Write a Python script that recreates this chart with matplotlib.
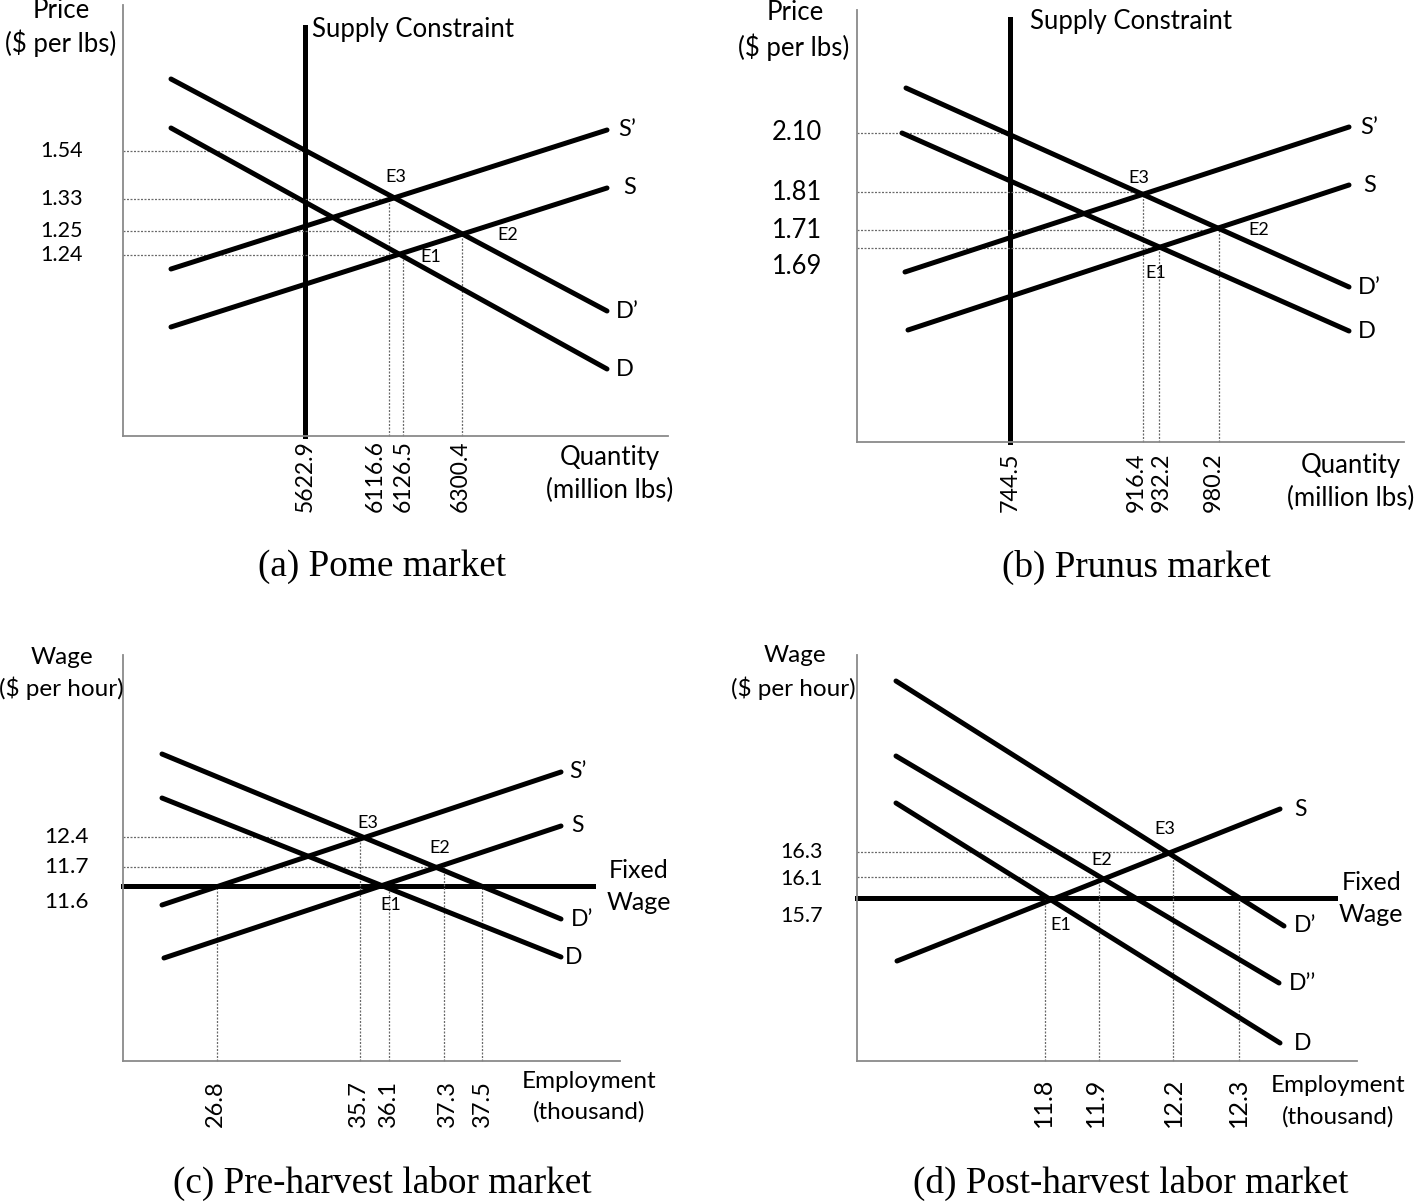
import matplotlib
matplotlib.use("Agg")
import matplotlib.pyplot as plt

plt.rcParams['font.family'] = ['Lato', 'DejaVu Sans']

W, H = 1418, 1204

# ---------------- Panel (a): Pome market (schematic diagram units) ----------------
A_CURVE_NAMES = ["D\u2019", "D", "S\u2019", "S"]
A_CURVE_X = [[48, 484], [48, 484], [48, 484], [48, 484]]
A_CURVE_Y = [[357, 125], [308, 67], [167, 306], [109, 248]]
A_CURVE_LABEL_X = [493, 493, 495, 500]
A_PRICE_LABELS = ["1.54", "1.33", "1.25", "1.24"]
A_PRICE_LEVELS = [285, 237, 205, 181]
A_PRICE_LABEL_Y = [285, 237, 205, 181]
A_PRICE_GUIDE_END = [182, 271, 338, 280]
A_QTY_LABELS = ["5622.9", "6116.6", "6126.5", "6300.4"]
A_QTY_LABEL_X = [182, 252, 280, 337]
A_QTY_GUIDE_X = [266, 280, 339]
A_QTY_GUIDE_TOP = [237, 181, 205]
A_EQ_LABELS = ["E1", "E2", "E3"]
A_EQ_X = [308, 385, 273]
A_EQ_Y = [179, 201, 259]
A_CONSTRAINT_X = 182
A_CONSTRAINT_TOP = 409

# ---------------- Panel (b): Prunus market ----------------
B_CURVE_NAMES = ["D\u2019", "D", "S\u2019", "S"]
B_CURVE_X = [[49, 492], [45, 492], [48, 492], [51, 492]]
B_CURVE_Y = [[354, 155], [309, 111], [170, 315], [112, 257]]
B_CURVE_LABEL_X = [501, 501, 503, 506]
B_PRICE_LABELS = ["2.10", "1.81", "1.71", "1.69"]
B_PRICE_LEVELS = [309, 250, 212, 194]
B_PRICE_LABEL_Y = [309, 250, 212, 175]
B_PRICE_GUIDE_END = [153, 286, 361, 302]
B_QTY_LABELS = ["744.5", "916.4", "932.2", "980.2"]
B_QTY_LABEL_X = [153, 279, 304, 356]
B_QTY_GUIDE_X = [286, 302, 362]
B_QTY_GUIDE_TOP = [250, 194, 212]
B_EQ_LABELS = ["E1", "E2", "E3"]
B_EQ_X = [299, 402, 282]
B_EQ_Y = [169, 212, 264]
B_CONSTRAINT_X = 153
B_CONSTRAINT_TOP = 423

# ---------------- Panel (c): Pre-harvest labor market ----------------
C_CURVE_NAMES = ["D\u2019", "D", "S\u2019", "S"]
C_CURVE_X = [[39, 438], [39, 438], [39, 438], [41, 438]]
C_CURVE_Y = [[307, 142], [263, 104], [156, 289], [103, 235]]
C_CURVE_LABEL_X = [448, 442, 446, 448]
C_WAGE_LABELS = ["12.4", "11.7", "11.6"]
C_WAGE_LEVELS = [224, 194]
C_WAGE_LABEL_Y = [224, 194, 159]
C_WAGE_GUIDE_END = [241, 317]
C_EMP_LABELS = ["26.8", "35.7", "36.1", "37.3", "37.5"]
C_EMP_LABEL_X = [92, 235, 265, 324, 359]
C_EMP_GUIDE_X = [94, 237, 266, 321, 359]
C_EMP_GUIDE_TOP = [175, 224, 175, 194, 175]
C_EQ_LABELS = ["E1", "E2", "E3"]
C_EQ_X = [268, 317, 245]
C_EQ_Y = [156, 213, 238]
C_FIXED_WAGE = 175
C_FIXED_WAGE_END = 470

# ---------------- Panel (d): Post-harvest labor market ----------------
D_CURVE_NAMES = ["D\u2019", "D\u2019\u2019", "D", "S"]
D_CURVE_X = [[39, 427], [39, 422], [39, 423], [40, 423]]
D_CURVE_Y = [[380, 135], [305, 78], [258, 18], [100, 252]]
D_CURVE_LABEL_X = [437, 432, 437, 437]
D_WAGE_LABELS = ["16.3", "16.1", "15.7"]
D_WAGE_LEVELS = [209, 184]
D_WAGE_LABEL_Y = [209, 182, 145]
D_WAGE_GUIDE_END = [311, 244]
D_EMP_LABELS = ["11.8", "11.9", "12.2", "12.3"]
D_EMP_LABEL_X = [186, 238, 316, 381]
D_EMP_GUIDE_X = [188, 242, 316, 382]
D_EMP_GUIDE_TOP = [163, 184, 209, 163]
D_EQ_LABELS = ["E1", "E2", "E3"]
D_EQ_X = [204, 245, 308]
D_EQ_Y = [136, 201, 232]
D_FIXED_WAGE = 163
D_FIXED_WAGE_END = 478

CAPTIONS = ["(a) Pome market", "(b) Prunus market",
            "(c) Pre-harvest labor market", "(d) Post-harvest labor market"]

THICK = 3.6
GUIDE_COLOR = "#6a6a6a"
SPINE_COLOR = "#8a8a8a"

fig = plt.figure(figsize=(W / 100, H / 100), dpi=100)


def make_axes(ox, oy, w, h):
    ax = fig.add_axes([ox / W, (H - oy) / H, w / W, h / H])
    ax.set_xlim(0, w)
    ax.set_ylim(0, h)
    for s in ("top", "right"):
        ax.spines[s].set_visible(False)
    for s in ("left", "bottom"):
        ax.spines[s].set_color(SPINE_COLOR)
        ax.spines[s].set_linewidth(1.3)
    ax.set_xticks([])
    ax.set_yticks([])
    ax.patch.set_alpha(0)
    return ax


def draw_curves(ax, names, xs, ys, label_x, fs):
    for n, x, y, lx in zip(names, xs, ys, label_x):
        ax.plot(x, y, color="black", lw=THICK, solid_capstyle="round", clip_on=False)
        ax.text(lx, y[1], n, ha="left", va="center", fontsize=fs, clip_on=False)


def hguides(ax, levels, ends):
    for lv, e in zip(levels, ends):
        ax.plot([0, e], [lv, lv], color=GUIDE_COLOR, lw=0.9,
                linestyle=(0, (1.6, 1.2)), clip_on=False)


def vguides(ax, xs, tops):
    for x, t in zip(xs, tops):
        ax.plot([x, x], [0, t], color=GUIDE_COLOR, lw=0.9,
                linestyle=(0, (1.6, 1.2)), clip_on=False)


def ylabels(ax, labels, ys, xr, fs):
    for l, y in zip(labels, ys):
        ax.text(xr, y, l, ha="right", va="center", fontsize=fs, clip_on=False)


def xlabels(ax, labels, xs, yt, fs):
    for l, x in zip(labels, xs):
        ax.text(x, yt, l, ha="center", va="top", rotation=90, fontsize=fs, clip_on=False)


def eqlabels(ax, labels, xs, ys, fs=13):
    for l, x, y in zip(labels, xs, ys):
        ax.text(x, y, l, ha="center", va="center", fontsize=fs, clip_on=False)


def title_text(ax, x, y, s, fs):
    ax.text(x, y, s, ha="center", va="center", fontsize=fs, clip_on=False)


# ---- (a) ----
ax = make_axes(123, 436, 545, 431)
ax.plot([A_CONSTRAINT_X, A_CONSTRAINT_X], [0, A_CONSTRAINT_TOP], color="black", lw=THICK, clip_on=False)
ax.text(A_CONSTRAINT_X + 7, A_CONSTRAINT_TOP - 2, "Supply Constraint", ha="left", va="center", fontsize=18.5)
hguides(ax, A_PRICE_LEVELS, A_PRICE_GUIDE_END)
vguides(ax, A_QTY_GUIDE_X, A_QTY_GUIDE_TOP)
draw_curves(ax, A_CURVE_NAMES, A_CURVE_X, A_CURVE_Y, A_CURVE_LABEL_X, 17)
ylabels(ax, A_PRICE_LABELS, A_PRICE_LABEL_Y, -40, 15.5)
xlabels(ax, A_QTY_LABELS, A_QTY_LABEL_X, -4, 16.5)
eqlabels(ax, A_EQ_LABELS, A_EQ_X, A_EQ_Y)
title_text(ax, -62, 426, "Price", 18.5)
title_text(ax, -62, 393, "($ per lbs)", 18.5)
title_text(ax, 487, -22, "Quantity", 18.5)
title_text(ax, 487, -54, "(million lbs)", 18.5)

# ---- (b) ----
ax = make_axes(857, 442, 547, 432)
ax.plot([B_CONSTRAINT_X, B_CONSTRAINT_X], [0, B_CONSTRAINT_TOP], color="black", lw=THICK, clip_on=False)
ax.text(B_CONSTRAINT_X + 20, B_CONSTRAINT_TOP - 2, "Supply Constraint", ha="left", va="center", fontsize=18.5)
hguides(ax, B_PRICE_LEVELS, B_PRICE_GUIDE_END)
vguides(ax, B_QTY_GUIDE_X, B_QTY_GUIDE_TOP)
draw_curves(ax, B_CURVE_NAMES, B_CURVE_X, B_CURVE_Y, B_CURVE_LABEL_X, 17)
ylabels(ax, B_PRICE_LABELS, B_PRICE_LABEL_Y, -35, 18.4)
xlabels(ax, B_QTY_LABELS, B_QTY_LABEL_X, -10, 16.8)
eqlabels(ax, B_EQ_LABELS, B_EQ_X, B_EQ_Y)
title_text(ax, -62, 430, "Price", 18.5)
title_text(ax, -63, 395, "($ per lbs)", 18.5)
title_text(ax, 494, -23, "Quantity", 18.5)
title_text(ax, 494, -56, "(million lbs)", 18.5)

# ---- (c) ----
ax = make_axes(123, 1061, 497, 406)
ax.plot([0, C_FIXED_WAGE_END], [C_FIXED_WAGE, C_FIXED_WAGE], color="black", lw=THICK, clip_on=False)
title_text(ax, 516, 191, "Fixed", 18)
title_text(ax, 516, 159, "Wage", 18)
hguides(ax, C_WAGE_LEVELS, C_WAGE_GUIDE_END)
vguides(ax, C_EMP_GUIDE_X, C_EMP_GUIDE_TOP)
draw_curves(ax, C_CURVE_NAMES, C_CURVE_X, C_CURVE_Y, C_CURVE_LABEL_X, 16.5)
ylabels(ax, C_WAGE_LABELS, C_WAGE_LABEL_Y, -34, 16.2)
xlabels(ax, C_EMP_LABELS, C_EMP_LABEL_X, -19, 17)
eqlabels(ax, C_EQ_LABELS, C_EQ_X, C_EQ_Y)
title_text(ax, -61, 404, "Wage", 17.5)
title_text(ax, -62, 373, "($ per hour)", 17.5)
title_text(ax, 466, -21, "Employment", 17.5)
title_text(ax, 466, -51, "(thousand)", 17.5)

# ---- (d) ----
ax = make_axes(857, 1061, 500, 406)
ax.plot([0, D_FIXED_WAGE_END], [D_FIXED_WAGE, D_FIXED_WAGE], color="black", lw=THICK, clip_on=False)
title_text(ax, 515, 178, "Fixed", 18)
title_text(ax, 514, 146, "Wage", 18)
hguides(ax, D_WAGE_LEVELS, D_WAGE_GUIDE_END)
vguides(ax, D_EMP_GUIDE_X, D_EMP_GUIDE_TOP)
draw_curves(ax, D_CURVE_NAMES, D_CURVE_X, D_CURVE_Y, D_CURVE_LABEL_X, 16.5)
ylabels(ax, D_WAGE_LABELS, D_WAGE_LABEL_Y, -34, 15.5)
xlabels(ax, D_EMP_LABELS, D_EMP_LABEL_X, -17, 18)
eqlabels(ax, D_EQ_LABELS, D_EQ_X, D_EQ_Y)
title_text(ax, -62, 406, "Wage", 17.5)
title_text(ax, -64, 373, "($ per hour)", 17.5)
title_text(ax, 481, -24, "Employment", 17.5)
title_text(ax, 481, -56, "(thousand)", 17.5)

# ---- captions ----
cap_pos = [(382, 567), (1136, 567), (382, 1183), (1131, 1183)]
for c, (cx, cy) in zip(CAPTIONS, cap_pos):
    fig.text(cx / W, 1 - cy / H, c, ha="center", va="center",
             fontsize=26.8, family=["Liberation Serif", "DejaVu Serif"])

fig.savefig("out.png", dpi=100, facecolor="white")
